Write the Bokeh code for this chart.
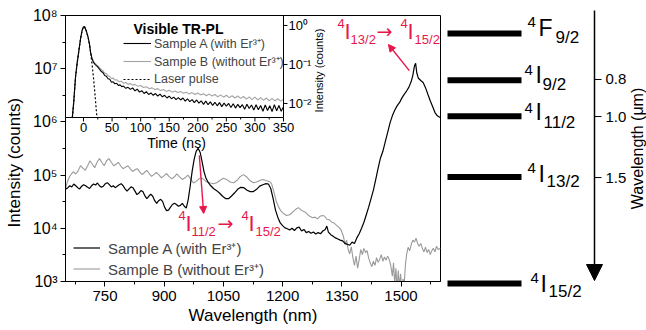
from math import pi
from bokeh.plotting import figure
from bokeh.layouts import row
from bokeh.models import (Range1d, LinearScale, LogScale, FixedTicker, CustomJSTickFormatter,
                          Legend, LegendItem, Arrow, NormalHead)
from bokeh.core.properties import value
from bokeh.embed import file_html
from bokeh.resources import INLINE

FONT = "Liberation Sans"
RED = "#E8174B"
GRAY = "#9a9a9a"
IGRAY = "#a3a3a3"

# ---------------- main spectrum data ----------------
wl_a = [650,656,661,666,671,676,681,686,691,696,701,706,711,716,721,726,731,736,741,746,751,756,761,766,771,776,781,786,791,796,801,806,811,816,821,826,831,836,841,846,851,856,861,866,871,876,881,886,891,896,901,906,911,916,921,926,931,936,941,946,951,956,961,966,971,976,981,986,991,996,1001,1006,1012,1018,1025,1033,1040,1048,1056,1063,1070,1078,1086,1094,1102,1110,1118,1126,1134,1142,1150,1158,1164,1170,1176,1182,1188,1194,1200,1206,1212,1218,1224,1230,1236,1242,1248,1254,1260,1266,1272,1278,1284,1290,1296,1302,1308,1312,1316,1322,1328,1334,1340,1346,1352,1358,1364,1370,1376,1382,1388,1394,1400,1406,1412,1418,1424,1430,1436,1442,1448,1454,1460,1466,1472,1478,1484,1490,1496,1502,1508,1514,1520,1526,1530,1534,1537,1540,1544,1550,1556,1562,1568,1574,1580,1586,1592,1600]
int_a = [5.4e4,5.8e4,6.3e4,6.0e4,6.8e4,6.3e4,5.8e4,5.5e4,6.2e4,6.6e4,6.3e4,5.9e4,5.6e4,6.3e4,6.8e4,6.5e4,7.1e4,6.3e4,5.9e4,6.2e4,6.9e4,7.2e4,6.6e4,6.0e4,6.3e4,5.8e4,6.2e4,6.6e4,6.9e4,6.3e4,5.5e4,5.0e4,5.5e4,6.0e4,5.8e4,5.0e4,4.3e4,4.6e4,5.1e4,4.9e4,4.1e4,3.6e4,4.0e4,4.4e4,4.0e4,3.3e4,2.95e4,3.3e4,3.5e4,3.2e4,2.5e4,2.15e4,2.2e4,2.5e4,2.8e4,2.95e4,2.8e4,2.6e4,2.7e4,2.95e4,2.6e4,2.4e4,3.5e4,6.3e4,1.2e5,2.0e5,2.8e5,3.2e5,2.7e5,1.8e5,1.15e5,8.7e4,7.2e4,6.3e4,5.6e4,5.1e4,4.6e4,4.0e4,3.6e4,3.6e4,4.0e4,4.6e4,5.4e4,5.9e4,5.8e4,5.2e4,4.9e4,4.9e4,5.4e4,6.2e4,6.6e4,6.9e4,6.8e4,5.6e4,3.6e4,2.2e4,1.6e4,1.26e4,1.12e4,1.02e4,9.8e3,9.3e3,1.0e4,9.1e3,1.02e4,1.05e4,8.9e3,9.5e3,8.3e3,8.7e3,8.1e3,8.5e3,7.8e3,8.3e3,7.9e3,8.9e3,9.5e3,1.1e4,8.5e3,7.6e3,7.1e3,6.6e3,6.3e3,6.0e3,5.8e3,5.2e3,5.0e3,4.8e3,5.5e3,5.2e3,6.6e3,7.9e3,1.0e4,1.3e4,1.8e4,2.5e4,3.6e4,5.2e4,8.3e4,1.35e5,2.1e5,2.8e5,4.2e5,6.3e5,9.5e5,1.3e6,1.66e6,2.0e6,2.3e6,2.8e6,3.3e6,3.8e6,4.5e6,5.8e6,7.6e6,1.12e7,1.26e7,8.3e6,6.6e6,6.0e6,5.5e6,4.4e6,3.3e6,2.5e6,1.95e6,1.5e6,1.3e6,1.2e6]

wl_b = [650,655,660,665,670,676,682,688,694,700,706,712,718,724,730,736,742,748,754,760,766,772,778,784,790,796,802,808,814,820,826,832,838,844,850,856,862,868,874,880,886,893,900,906,912,919,926,932,939,946,953,960,967,974,981,988,994,1000,1008,1017,1025,1033,1041,1050,1058,1067,1076,1084,1092,1101,1110,1118,1126,1134,1142,1150,1158,1166,1172,1178,1184,1190,1196,1202,1210,1218,1226,1234,1240,1246,1252,1258,1264,1270,1276,1282,1288,1294,1300,1306,1312,1318,1324,1330,1336,1342,1348,1354,1358,1362,1366,1370,1374,1378,1382,1386,1390,1394,1398,1402,1406,1410,1414,1418,1422,1426,1430,1434,1438,1442,1446,1450,1454,1458,1462,1466,1470,1474,1478,1481,1484,1487,1490,1493,1496,1499,1502,1505,1508,1511,1514,1518,1522,1526,1530,1534,1538,1542,1546,1550,1554,1558,1562,1566,1570,1574,1578,1582,1586,1590,1594,1600]
int_b = [5.6e4,7.6e4,9.3e4,1.05e5,1.15e5,1.05e5,1.2e5,1.5e5,1.35e5,1.23e5,1.5e5,1.86e5,1.6e5,1.38e5,1.74e5,2.04e5,1.74e5,1.5e5,1.86e5,2.04e5,1.74e5,1.5e5,1.6e5,1.74e5,1.48e5,1.32e5,1.41e5,1.5e5,1.32e5,1.17e5,1.26e5,1.32e5,1.15e5,1.02e5,1.12e5,1.23e5,1.07e5,9.5e4,1.02e5,1.12e5,1.02e5,8.9e4,9.8e4,1.07e5,9.5e4,8.5e4,9.3e4,1.05e5,9.3e4,8.3e4,8.9e4,1.0e5,8.5e4,7.1e4,7.6e4,8.5e4,8.9e4,8.3e4,7.4e4,7.1e4,6.9e4,7.2e4,7.9e4,8.7e4,8.3e4,7.4e4,7.2e4,7.9e4,9.3e4,1.02e5,9.1e4,7.8e4,7.2e4,7.4e4,7.9e4,8.3e4,7.9e4,7.6e4,6.9e4,4.8e4,3.2e4,2.5e4,2.1e4,1.9e4,1.74e4,1.8e4,2.04e4,2.3e4,2.45e4,2.24e4,2.1e4,2.0e4,1.8e4,1.66e4,1.58e4,1.62e4,1.5e4,1.66e4,1.74e4,1.7e4,1.48e4,1.45e4,1.32e4,1.26e4,1.15e4,1.05e4,9.3e3,7.1e3,5.0e3,6.0e3,4.0e3,3.3e3,4.5e3,2.8e3,2.0e3,3.0e3,1.78e3,2.6e3,4.0e3,3.2e3,4.2e3,3.5e3,3.8e3,2.75e3,2.24e3,1.9e3,2.4e3,2.0e3,2.8e3,2.3e3,2.6e3,3.2e3,2.4e3,2.9e3,2.5e3,3.0e3,2.6e3,2.0e3,1.26e3,2.24e3,8.9e2,1.78e3,7.1e2,1.6e3,7.9e2,1.4e3,6.3e2,1.12e3,8.9e2,2.0e3,3.2e3,4.4e3,3.8e3,5.0e3,6.0e3,5.5e3,6.5e3,5.2e3,4.6e3,5.2e3,4.2e3,3.6e3,4.4e3,3.5e3,4.0e3,3.2e3,3.8e3,4.2e3,3.6e3,4.6e3,4.0e3,4.2e3]

nm_major_ticks = [750, 900, 1050, 1200, 1350, 1500]
nm_minor_ticks = [675, 825, 975, 1125, 1275, 1425, 1575]
count_major_ticks = [1e3, 1e4, 1e5, 1e6, 1e7, 1e8]
count_minor_ticks = [3.16e3, 3.16e4, 3.16e5, 3.16e6, 3.16e7]

# ---------------- inset (time-resolved PL) data ----------------
rise_time = [-19.5, -17, -14, -11, -8, -5, -2.5, 0, 2, 5, 8, 10.5, 12.5]
rise_tr = [0.0044, 0.0112, 0.047, 0.112, 0.234, 0.47, 0.74, 0.93, 0.91, 0.72, 0.50, 0.33, 0.20]
decay_time_a = [15,18,21,24,28,31,34,37,40,43,46,49,52,55,58,61,64,67,70,74,78,82,86,90,94,98,102,106,110,114,118,122,126,130,134,138,142,146,150,154,158,162,166,170,174,178,182,186,190,194,198,202,206,210,214,218,222,226,230,234,238,242,246,250,254,258,262,266,270,274,278,282,286,290,294,298,302,306,310,314,318,322,326,330,334,338,342,346,350]
decay_tr_a = [0.138,0.110,0.098,0.089,0.076,0.066,0.062,0.052,0.050,0.043,0.042,0.035,0.036,0.032,0.033,0.029,0.030,0.027,0.028,0.0245,0.026,0.023,0.025,0.021,0.0234,0.0195,0.0214,0.018,0.020,0.017,0.0186,0.0162,0.018,0.0155,0.0174,0.0148,0.0162,0.0138,0.0155,0.0132,0.0145,0.0126,0.0141,0.0123,0.0138,0.0115,0.0132,0.0112,0.0126,0.0105,0.0123,0.0102,0.0117,0.0095,0.0115,0.0093,0.011,0.0089,0.0107,0.0087,0.0105,0.0083,0.0102,0.0085,0.0100,0.0079,0.0098,0.0076,0.0095,0.0078,0.0093,0.0071,0.0095,0.0074,0.0091,0.0068,0.0093,0.0069,0.0089,0.0063,0.0091,0.0066,0.0087,0.0062,0.0093,0.0065,0.0089,0.0063,0.0083]
decay_time_b = [15,18,21,24,28,31,34,37,40,43,46,49,52,55,58,62,66,70,74,78,82,86,90,95,100,105,110,115,120,125,130,135,140,145,150,155,160,165,170,175,180,185,190,195,200,205,210,215,220,225,230,235,240,245,250,255,260,265,270,275,280,285,290,295,300,305,310,315,320,325,330,335,340,345,350]
decay_tr_b = [0.145,0.117,0.105,0.095,0.083,0.074,0.069,0.060,0.058,0.051,0.049,0.0437,0.0447,0.0398,0.0407,0.0363,0.0372,0.0331,0.0347,0.0309,0.0324,0.0295,0.0309,0.0275,0.0288,0.0257,0.0269,0.024,0.0251,0.0229,0.024,0.0214,0.0229,0.0204,0.0219,0.0195,0.0209,0.019,0.0204,0.0182,0.0195,0.0174,0.019,0.017,0.0186,0.0166,0.0178,0.0158,0.0174,0.0155,0.017,0.0148,0.0166,0.0145,0.0162,0.0141,0.0158,0.0138,0.0155,0.0135,0.0151,0.0129,0.0148,0.0126,0.0145,0.0123,0.0141,0.012,0.0138,0.0117,0.0135,0.0117,0.0132,0.0115,0.0129]
decay_time_laser = [15, 17.5, 20, 22, 23.5]
decay_tr_laser = [0.10, 0.045, 0.0178, 0.0079, 0.0044]
time_a = rise_time + decay_time_a
tr_a = rise_tr + decay_tr_a
time_b = rise_time + decay_time_b
tr_b = rise_tr + decay_tr_b
time_laser = rise_time + decay_time_laser
tr_laser = rise_tr + decay_tr_laser

time_ticks = [0, 50, 100, 150, 200, 250, 300, 350]
time_minor = [25, 75, 125, 175, 225, 275, 325]
tr_ticks = [1.0, 0.1, 0.01]
tr_tick_labels = ["10⁰", "10⁻¹", "10⁻²"]

# ---------------- energy level diagram data ----------------
level_energy = [15250, 12400, 10200, 6500, 0]        # cm^-1
level_letter = ["F", "I", "I", "I", "I"]
level_sub = ["9/2", "9/2", "11/2", "13/2", "15/2"]
wl_um_labels = ["0.8", "1.0", "1.5"]
wl_um_tick_energy = [12440, 10180, 6460]              # read positions on the arrow axis

# ================= main figure =================
p = figure(width=441, height=330, x_range=Range1d(650, 1600), y_range=Range1d(1e3, 1e8),
           y_axis_type="log", output_backend="svg", toolbar_location=None,
           min_border_left=65, min_border_right=1, min_border_top=15, min_border_bottom=49)
p.frame_align = False
p.grid.visible = False
p.outline_line_color = "black"
p.outline_line_width = 1

xa = p.xaxis[0]
xa.ticker = FixedTicker(ticks=nm_major_ticks, minor_ticks=nm_minor_ticks)
xa.axis_label = "Wavelength (nm)"
ya = p.yaxis[0]
ya.ticker = FixedTicker(ticks=count_major_ticks, minor_ticks=count_minor_ticks)
ya.formatter = CustomJSTickFormatter(code="""
const sup = {"0":"\u2070","1":"\u00b9","2":"\u00b2","3":"\u00b3","4":"\u2074","5":"\u2075","6":"\u2076","7":"\u2077","8":"\u2078","9":"\u2079","-":"\u207b"};
const e = Math.round(Math.log10(tick));
return "10" + String(e).split("").map(c => sup[c]).join("");
""")
# trailing no-break spaces nudge the centred label towards the lower part of the axis
ya.axis_label = "Intensity (counts)" + "\u00a0" * 6
for ax in (xa, ya):
    ax.axis_label_text_font = FONT
    ax.axis_label_text_font_style = "normal"
    ax.axis_label_text_font_size = "17px"
    ax.axis_label_text_color = "black"
    ax.major_label_text_font = FONT
    ax.major_label_text_color = "black"
    ax.axis_line_color = "black"
    ax.major_tick_line_color = "black"
    ax.minor_tick_line_color = "black"
    ax.major_tick_in = 0
    ax.major_tick_out = 5
    ax.minor_tick_in = 0
    ax.minor_tick_out = 3
xa.major_label_text_font_size = "15px"
xa.major_label_standoff = 4
xa.axis_label_standoff = 2
ya.major_label_text_font_size = "16px"
ya.major_label_standoff = 3
ya.axis_label_standoff = 6

rb = p.line(wl_b, int_b, line_color=GRAY, line_width=1.1)
ra = p.line(wl_a, int_a, line_color="black", line_width=1.2)

main_legend = Legend(items=[LegendItem(label="Sample A (with Er³⁺)", renderers=[ra]),
                            LegendItem(label="Sample B (without Er³⁺)", renderers=[rb])],
                     location=(8, 2), padding=0, margin=0, spacing=0,
                     glyph_width=27, glyph_height=21, label_height=21, label_standoff=8,
                     label_text_font=FONT, label_text_font_size="15px",
                     border_line_color=None, background_fill_alpha=0)
p.add_layout(main_legend)


def txt(fig, x, y, s, size, dx=0, dy=0, color="black", align="left", mode="base",
        bold=False, angle=0, xr=None, yr=None, font=FONT):
    """mode 'base': dy is the text baseline offset (px, down positive)."""
    kw = {}
    if xr:
        kw["x_range_name"] = xr
    if yr:
        kw["y_range_name"] = yr
    if mode == "base":
        baseline = "middle"
        yoff = dy - 0.35 * size
    else:
        baseline = mode
        yoff = dy
    fig.text(x=[x], y=[y], text=[s], x_offset=dx, y_offset=yoff, angle=angle,
             text_font=value(font), text_font_size=f"{size}px", text_color=color,
             text_align=align, text_baseline=baseline,
             text_font_style="bold" if bold else "normal", **kw)


def transition(fig, x, y, upper, lower):
    txt(fig, x, y, "4", 13, dx=-7, dy=-11, color=RED)
    txt(fig, x, y, "I", 22, color=RED)
    txt(fig, x, y, upper, 13, dx=6, dy=5, color=RED)
    txt(fig, x, y, "→", 19, dx=32, dy=-2, color=RED, font="DejaVu Sans")
    txt(fig, x, y, "4", 13, dx=56, dy=-11, color=RED)
    txt(fig, x, y, "I", 22, dx=63, color=RED)
    txt(fig, x, y, lower, 13, dx=70, dy=5, color=RED)


# red transition annotations (anchor = left/baseline of first "I")
transition(p, 1357, 3.54e7, "13/2", "15/2")
transition(p, 954, 8.7e3, "11/2", "15/2")
p.add_layout(Arrow(end=NormalHead(size=7, fill_color=RED, line_color=RED),
                   x_start=1521, y_start=9.2e6, x_end=1468, y_end=2.85e7,
                   line_color=RED, line_width=1.4))
p.add_layout(Arrow(end=NormalHead(size=7, fill_color=RED, line_color=RED),
                   x_start=989, y_start=2.35e5, x_end=1000, y_end=1.9e4,
                   line_color=RED, line_width=1.4))

# ---- inset drawn on extra ranges ----
T0, T1 = -31.5, 350.0
L0, L1 = -2.36, 0.256
FRAME_W, FRAME_H = 375, 266
INSET_W, INSET_H = 218, 102
t_full = T0 + (T1 - T0) * FRAME_W / INSET_W
l_full = L1 - (L1 - L0) * FRAME_H / INSET_H
p.extra_x_ranges = {"t": Range1d(T0, t_full)}
p.extra_y_ranges = {"tr": Range1d(10 ** l_full, 10 ** L1)}
p.extra_x_scales = {"t": LinearScale()}
p.extra_y_scales = {"tr": LogScale()}
ybot, ytop = 10 ** L0, 10 ** L1
px_t = (T1 - T0) / INSET_W
px_l = (L1 - L0) / INSET_H

rib = p.line(time_b, tr_b, line_color=IGRAY, line_width=1.1, x_range_name="t", y_range_name="tr")
ria = p.line(time_a, tr_a, line_color="black", line_width=1.1, x_range_name="t", y_range_name="tr")
ril = p.line(time_laser, tr_laser, line_color="black", line_width=1.2, line_dash="2 2",
             x_range_name="t", y_range_name="tr")

p.segment(x0=[T0, T1], y0=[ybot, ybot], x1=[T1, T1], y1=[ybot, ytop], line_color="black",
          line_width=1, x_range_name="t", y_range_name="tr")
p.segment(x0=time_ticks, y0=[ybot] * len(time_ticks), x1=time_ticks,
          y1=[10 ** (L0 - 4 * px_l)] * len(time_ticks), line_color="black",
          x_range_name="t", y_range_name="tr")
p.segment(x0=time_minor, y0=[ybot] * len(time_minor), x1=time_minor,
          y1=[10 ** (L0 - 2 * px_l)] * len(time_minor), line_color="black",
          x_range_name="t", y_range_name="tr")
p.segment(x0=[T1] * 3, y0=tr_ticks, x1=[T1 + 4 * px_t] * 3, y1=tr_ticks, line_color="black",
          x_range_name="t", y_range_name="tr")
p.text(x=time_ticks, y=[ybot] * len(time_ticks), text=[str(t) for t in time_ticks],
       x_offset=0, y_offset=5, text_align="center", text_baseline="top",
       text_font=value(FONT), text_font_size="13px", x_range_name="t", y_range_name="tr")
p.text(x=[T1] * 3, y=tr_ticks, text=tr_tick_labels, x_offset=5, y_offset=0,
       text_align="left", text_baseline="middle",
       text_font=value(FONT), text_font_size="13px", x_range_name="t", y_range_name="tr")
txt(p, (T0 + T1) / 2, ybot, "Time (ns)", 14, dx=2, dy=17, align="center", mode="top",
    xr="t", yr="tr")
txt(p, T1, 10 ** ((L0 + L1) / 2), "Intensity (counts)", 11, dx=35, dy=4, align="center",
    mode="middle", angle=pi / 2, xr="t", yr="tr")
txt(p, T0, ytop, "Visible TR-PL", 14, dx=68, dy=18, align="left", bold=True,
    xr="t", yr="tr")

inset_legend = Legend(items=[LegendItem(label="Sample A (with Er³⁺)", renderers=[ria]),
                             LegendItem(label="Sample B (without Er³⁺)", renderers=[rib]),
                             LegendItem(label="Laser pulse", renderers=[ril])],
                      location=(58, 193), padding=0, margin=0, spacing=0,
                      glyph_width=28, glyph_height=18, label_height=18, label_standoff=3,
                      label_text_font=FONT, label_text_font_size="12.5px",
                      border_line_color=None, background_fill_alpha=0)
p.add_layout(inset_legend)

# ================= energy level diagram =================
d = figure(width=205, height=330, x_range=Range1d(0, 205), y_range=Range1d(-2866, 17256),
           output_backend="svg", toolbar_location=None, x_axis_location=None,
           y_axis_location=None, min_border=0)
d.frame_align = False
d.outline_line_color = None
d.grid.visible = False

d.segment(x0=[6] * 5, x1=[80] * 5, y0=level_energy, y1=level_energy, line_color="black",
          line_width=6, line_cap="butt")
sup_x = [86, 83, 83, 86, 89]
let_x = [97, 94, 94, 97, 99]
sub_x = [114, 101, 102, 105, 107]
sup_dy = [-6, -5, -3, -4, 0]
let_dy = [3, 3, 4, 5, 9]
sub_dy = [10, 10, 12, 11, 14]
for i, e in enumerate(level_energy):
    txt(d, sup_x[i], e, "4", 15, dy=sup_dy[i])
    txt(d, let_x[i], e, level_letter[i], 23, dy=let_dy[i])
    txt(d, sub_x[i], e, level_sub[i], 17, dy=sub_dy[i])

d.add_layout(Arrow(end=NormalHead(size=16, fill_color="black", line_color="black"),
                   x_start=153, y_start=16650, x_end=153, y_end=180,
                   line_color="black", line_width=1.5))
d.segment(x0=[153] * 3, x1=[160] * 3, y0=wl_um_tick_energy, y1=wl_um_tick_energy,
          line_color="black", line_width=1)
d.text(x=[164] * 3, y=wl_um_tick_energy, text=wl_um_labels, text_align="left",
       text_baseline="middle", text_font=value(FONT), text_font_size="15px")
txt(d, 196, 8232, "Wavelength (μm)", 16, align="center", mode="middle", angle=pi / 2)

layout = row(p, d)
open("out.html", "w").write(file_html(layout, INLINE))
